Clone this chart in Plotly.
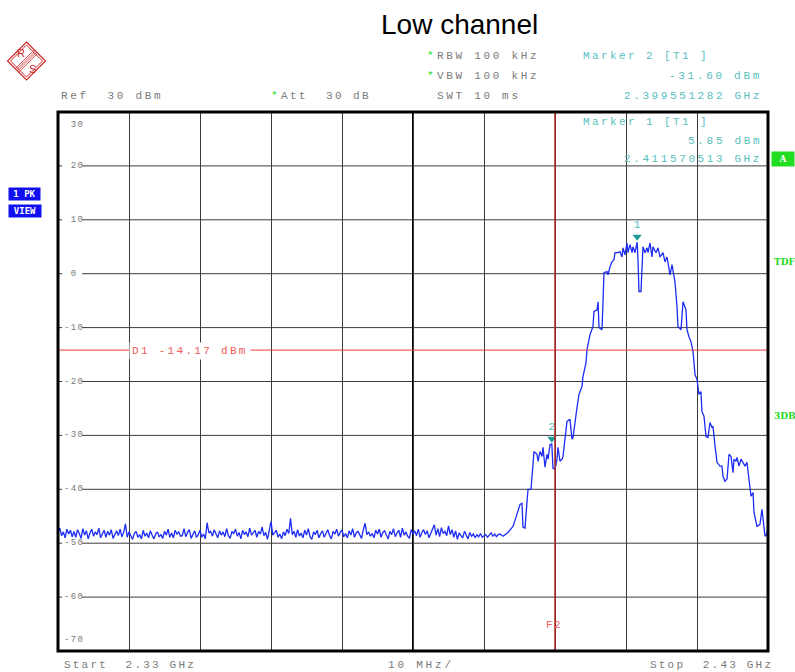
import plotly.graph_objects as go

# ---------------- data ----------------
# noise floor section: sweep points every 0.25 MHz starting at 2.330 GHz
noise_start_ghz = 2.330
noise_step_ghz = 0.00025
noise_level_dbm = [
    -48.0, -47.2, -48.6, -47.9, -49.0, -47.4, -48.3, -47.6, -48.8, -47.8,
    -48.9, -47.5, -48.2, -49.1, -47.3, -48.5, -47.7, -49.2, -48.1, -47.4,
    -48.7, -47.9, -48.4, -47.2, -49.0, -48.2, -47.6, -48.9, -47.8, -48.5,
    -47.5, -49.1, -48.3, -47.7, -48.6, -47.4, -48.8, -48.0, -46.4, -48.9,
    -47.9, -48.6, -49.3, -48.2, -47.8, -48.9, -48.4, -49.2, -47.6, -48.7,
    -48.1, -49.0, -47.7, -48.5, -49.2, -48.3, -47.9, -48.8, -48.4, -49.1,
    -47.8, -48.5, -47.4, -48.9, -48.1, -49.0, -47.6, -48.3, -47.9, -48.7,
    -48.6, -47.3, -48.8, -48.0, -47.5, -49.1, -48.2, -47.7, -48.9, -48.4,
    -47.6, -48.9, -48.3, -49.2, -46.2, -48.1, -47.8, -48.7, -47.5, -48.4,
    -49.0, -47.7, -48.5, -47.9, -48.8, -47.3, -48.6, -49.1, -47.8, -48.2,
    -47.4, -48.7, -48.0, -49.2, -47.6, -48.4, -47.9, -48.8, -47.2, -48.5,
    -48.1, -47.6, -48.9, -47.8, -48.3, -47.0, -48.6, -48.0, -49.3, -47.7,
    -46.0, -48.5, -48.1, -47.6, -48.9, -48.3, -49.2, -47.9, -48.6, -47.4,
    -48.2, -45.4, -48.4, -47.8, -48.9, -47.5, -48.7, -48.1, -49.0, -47.6,
    -48.5, -47.3, -48.8, -49.3, -47.9, -48.4, -47.6, -49.0, -48.2, -47.7,
    -48.9, -48.1, -47.5, -48.6, -49.2, -47.8, -48.3, -47.4, -48.7, -48.0,
    -47.6, -48.8, -48.2, -49.0, -47.7, -48.5, -47.3, -48.9, -48.1, -47.8,
    -48.6, -49.1, -47.5, -46.3, -48.4, -47.9, -48.7, -48.2, -49.0, -47.6,
    -48.3, -47.4, -48.9, -48.0, -47.7, -48.6, -49.2, -47.8, -48.4, -47.3,
    -48.8, -48.1, -47.6, -48.9, -47.2, -48.5, -47.9, -48.7, -49.1, -47.5,
    -48.2, -47.8, -48.6, -47.4, -48.9, -48.0, -47.5, -48.4, -47.7, -49.0,
    -48.3, -47.6, -46.6, -48.5, -47.3, -48.8, -47.1, -48.2, -47.8, -48.6,
    -46.8, -48.4, -47.5, -48.9, -47.7, -49.3, -48.1, -48.6, -49.0, -47.8,
    -48.5, -49.2, -48.0, -48.7, -48.3, -49.0, -48.4, -48.8, -48.2, -48.9,
    -48.6, -48.4, -48.9, -48.5, -48.1, -48.7, -48.3, -48.8, -48.4,
]

# signal section (frequency GHz, level dBm)
signal_freq_ghz = [
    2.39225, 2.39268, 2.39338, 2.39408, 2.39465, 2.39507, 2.39535, 2.39549, 2.39577, 2.39606,
    2.39620, 2.39662, 2.39676, 2.39690, 2.39704, 2.39746, 2.39761, 2.39789, 2.39817, 2.39831,
    2.39859, 2.39887, 2.39901, 2.39930, 2.39955, 2.39972, 2.40000, 2.40028, 2.40042, 2.40070,
    2.40099, 2.40113, 2.40141, 2.40169, 2.40211, 2.40239, 2.40254, 2.40282, 2.40310, 2.40338,
    2.40380, 2.40394, 2.40437, 2.40451, 2.40493, 2.40535, 2.40549, 2.40592, 2.40606, 2.40620,
    2.40662, 2.40676, 2.40690, 2.40732, 2.40746, 2.40775, 2.40803, 2.40831, 2.40845, 2.40887,
    2.40915, 2.40944, 2.40958, 2.40986, 2.41014, 2.41028, 2.41056, 2.41085, 2.41099, 2.41127,
    2.41157, 2.41169, 2.41183, 2.41211, 2.41225, 2.41239, 2.41268, 2.41296, 2.41310, 2.41338,
    2.41366, 2.41380, 2.41423, 2.41451, 2.41479, 2.41521, 2.41549, 2.41577, 2.41592, 2.41620,
    2.41648, 2.41662, 2.41690, 2.41718, 2.41732, 2.41775, 2.41789, 2.41803, 2.41845, 2.41859,
    2.41887, 2.41915, 2.41944, 2.41958, 2.41972, 2.42000, 2.42028, 2.42056, 2.42070, 2.42099,
    2.42127, 2.42155, 2.42183, 2.42211, 2.42225, 2.42254, 2.42282, 2.42324, 2.42352, 2.42366,
    2.42394, 2.42423, 2.42451, 2.42479, 2.42507, 2.42521, 2.42549, 2.42563, 2.42592, 2.42620,
    2.42676, 2.42704, 2.42732, 2.42761, 2.42789, 2.42803, 2.42845, 2.42887, 2.42915, 2.42930,
    2.42958, 2.42986, 2.43000,
]
signal_level_dbm = [
    -48.3, -48.7, -48.0, -46.9, -44.6, -42.8, -42.6, -47.0, -47.2, -41.5,
    -40.0, -40.0, -36.9, -34.1, -33.0, -33.5, -34.8, -33.0, -33.9, -32.2,
    -35.9, -33.5, -34.4, -31.7, -31.6, -36.1, -36.3, -34.4, -32.2, -34.8,
    -34.4, -33.9, -30.4, -27.4, -27.0, -30.7, -30.4, -27.0, -24.8, -22.4,
    -20.9, -19.1, -16.5, -14.1, -11.3, -9.8, -7.0, -6.7, -5.2, -10.0,
    -10.4, -5.2, 0.2, 0.4, -0.2, 1.3, 2.2, 2.6, 3.9, 3.9,
    4.1, 3.1, 4.8, 3.5, 5.7, 3.9, 5.4, 3.9, 5.0, 3.9,
    5.85, 2.6, -3.3, -3.3, 2.2, 5.0, 3.9, 4.8, 3.9, 5.7,
    3.1, 5.0, 3.9, 4.8, 3.1, 3.9, 2.2, 3.1, 2.0, -0.2,
    1.7, 0.7, -1.5, -6.1, -9.8, -10.4, -7.2, -5.2, -6.7, -10.4,
    -11.7, -12.6, -14.4, -17.2, -18.7, -19.6, -22.4, -21.9, -25.6, -26.5,
    -30.2, -30.4, -27.6, -28.5, -28.3, -32.0, -35.0, -35.7, -35.7, -37.6,
    -38.5, -38.1, -33.5, -33.9, -36.9, -34.4, -34.8, -34.1, -35.7, -34.4,
    -35.7, -35.0, -38.7, -41.3, -40.6, -44.3, -46.9, -46.5, -43.7, -45.6,
    -48.7, -48.3, -45.9,
]

marker_names = ["1", "2"]
marker_freq_ghz = [2.411570513, 2.399551282]
marker_level_dbm = [5.85, -31.60]

display_line_dbm = -14.17
freq_line_ghz = 2.40

x_start, x_stop = 2.33, 2.43
y_bottom, y_ref = -70, 30
y_tick_values = [30, 20, 10, 0, -10, -20, -30, -40, -50, -60, -70]

# ---------------- figure ----------------
noise_freq = [round(noise_start_ghz + i * noise_step_ghz, 6) for i in range(len(noise_level_dbm))]
freq = noise_freq + signal_freq_ghz
level = noise_level_dbm + signal_level_dbm

L, R, T, B = 58, 768, 112, 651
W, H = 795, 672


def px(x):
    return (x - L) / (R - L)


def py(y):
    return (B - y) / (B - T)


GRAY = "#7a7a7a"
TEAL = "#58c0bc"
GREEN = "#22dd22"
MONO = "Liberation Mono"


def sp(t, s=2.7):
    return '<span style="letter-spacing:%.1fpx">%s</span>' % (s, t.replace(" ", "\u00a0"))


fig = go.Figure()
fig.add_trace(go.Scatter(x=freq, y=level, mode="lines",
                         line=dict(color="#1d2cf5", width=1.3), hoverinfo="skip"))
fig.add_trace(go.Scatter(x=marker_freq_ghz, y=[v + 1.0 for v in marker_level_dbm],
                         mode="markers+text", text=marker_names, textposition="top center",
                         textfont=dict(family=MONO, size=11, color=TEAL),
                         marker=dict(symbol="triangle-down", size=8, color="#1e9c98"),
                         hoverinfo="skip"))

shapes = []
# horizontal grid lines with gap for labels
for v in y_tick_values[1:-1]:
    shapes.append(dict(type="line", xref="paper", yref="y", x0=0, x1=px(62), y0=v, y1=v,
                       line=dict(color="#3c3c3c", width=1), layer="below"))
    shapes.append(dict(type="line", xref="paper", yref="y", x0=px(82), x1=1, y0=v, y1=v,
                       line=dict(color="#3c3c3c", width=1), layer="below"))
# center vertical line
shapes.append(dict(type="line", xref="x", yref="paper", x0=(x_start + x_stop) / 2, x1=(x_start + x_stop) / 2,
                   y0=0, y1=1, line=dict(color="black", width=2), layer="below"))
# display line D1
shapes.append(dict(type="line", xref="paper", yref="y", x0=0, x1=1, y0=display_line_dbm, y1=display_line_dbm,
                   line=dict(color="#ee3b3b", width=1)))
# frequency line F2
shapes.append(dict(type="line", xref="x", yref="paper", x0=freq_line_ghz, x1=freq_line_ghz, y0=0, y1=1,
                   line=dict(color="#b02424", width=1.5)))
# frame
shapes.append(dict(type="rect", xref="paper", yref="paper", x0=0, x1=1, y0=0, y1=1,
                   line=dict(color="black", width=3)))

# R&S logo
cx, cy, r = 26.5, 61, 19
RED = "#cc2a2a"


def dpath(rr):
    pts = [(cx, cy - rr), (cx + rr, cy), (cx, cy + rr), (cx - rr, cy)]
    return "M " + " L ".join("%f,%f" % (px(a), py(b)) for a, b in pts) + " Z"


shapes.append(dict(type="path", xref="paper", yref="paper", path=dpath(r), line=dict(color=RED, width=1.2)))
shapes.append(dict(type="path", xref="paper", yref="paper", path=dpath(r - 3), line=dict(color=RED, width=1)))
for off in (-2.5, -0.8, 0.8, 2.5):
    x0, y0 = cx + 9 + off * 0.7, cy - 9 + off * 0.7
    x1, y1 = cx - 9 + off * 0.7, cy + 9 + off * 0.7
    shapes.append(dict(type="line", xref="paper", yref="paper", x0=px(x0), y0=py(y0), x1=px(x1), y1=py(y1),
                       line=dict(color=RED, width=0.8)))

ann = []


def text(x, y, t, color=GRAY, size=11, anchor="left", family=MONO, **kw):
    ann.append(dict(xref="paper", yref="paper", x=px(x), y=py(y), text=t, showarrow=False,
                    xanchor=anchor, yanchor="middle", font=dict(family=family, size=size, color=color), **kw))


# title
text(459, 24, "Low channel", color="black", size=28, anchor="center", family="Liberation Sans")
# logo letters
text(20.5, 53, "R", color=RED, size=11, anchor="center", family="Liberation Sans")
text(32.5, 69, "S", color=RED, size=11, anchor="center", family="Liberation Sans")

# header
text(59, 96, sp("Ref  30 dBm"))
text(269, 96, "*", color=GREEN, size=11)
text(279, 96, sp("Att  30 dB", 2.4))
text(425, 56, "*", color=GREEN, size=11)
text(435, 56, sp("RBW 100 kHz"))
text(425, 76, "*", color=GREEN, size=11)
text(435, 76, sp("VBW 100 kHz"))
text(435, 96, sp("SWT 10 ms"))
text(581, 56, sp("Marker 2 [T1 ]", 2.4), color=TEAL)
text(764, 76, sp("-31.60 dBm"), color=TEAL, anchor="right")
text(764, 96, sp("2.399551282 GHz", 2.6), color=TEAL, anchor="right")
text(581, 122, sp("Marker 1 [T1 ]", 2.4), color=TEAL)
text(764, 141, sp("5.85 dBm"), color=TEAL, anchor="right")
text(764, 159, sp("2.411570513 GHz", 2.6), color=TEAL, anchor="right")

# side boxes
text(24.5, 193.5, "<b>1 PK</b>", color="white", size=9, anchor="center", family="DejaVu Sans Mono",
     bgcolor="#1010f0", width=31, height=12, borderpad=0)
text(25, 210.5, "<b>VIEW</b>", color="white", size=9, anchor="center", family="DejaVu Sans Mono",
     bgcolor="#1010f0", width=32, height=12, borderpad=0)
text(783, 159, "<b>A</b>", color="white", size=9, anchor="center", family="DejaVu Serif",
     bgcolor=GREEN, width=22, height=14, borderpad=0)
text(772, 262, "<b>TDF</b>", color=GREEN, size=9, family="DejaVu Serif")
text(772, 416, "<b>3DB</b>", color=GREEN, size=9, family="DejaVu Serif")

# y labels
for v in y_tick_values:
    yy = B - (v - y_bottom) / (y_ref - y_bottom) * (B - T)
    if v == y_ref:
        yy += 13
    if v == y_bottom:
        yy -= 11
    lab = ("-" + str(abs(v))) if v < 0 else (" " + str(v))
    text(62, yy, sp(lab, 1.4), size=9)

# D1 and F2 labels
text(129, 351, sp("D1 -14.17 dBm", 2.3), color="#f05a5a", bgcolor="white", borderpad=2)
text(554, 625, sp("F2", 1.5), color="#f05a5a", anchor="center")

# bottom labels
text(62, 665, sp("Start  2.33 GHz", 2.2))
text(386, 665, sp("10 MHz/", 2.8))
text(648, 665, sp("Stop  2.43 GHz", 2.2))

fig.update_layout(
    width=W, height=H, margin=dict(l=L, r=W - R, t=T, b=H - B),
    paper_bgcolor="white", plot_bgcolor="white", showlegend=False,
    xaxis=dict(range=[x_start, x_stop], tick0=x_start, dtick=(x_stop - x_start) / 10, showgrid=True,
               gridcolor="#3c3c3c", gridwidth=1, showticklabels=False, ticks="", zeroline=False,
               showline=False, fixedrange=True),
    yaxis=dict(range=[y_bottom, y_ref], showgrid=False, showticklabels=False, ticks="", zeroline=False,
               showline=False, fixedrange=True),
    shapes=shapes, annotations=ann,
)

fig.write_html("out.html", config={"displayModeBar": False},
               post_script="document.body.style.margin='0';")
